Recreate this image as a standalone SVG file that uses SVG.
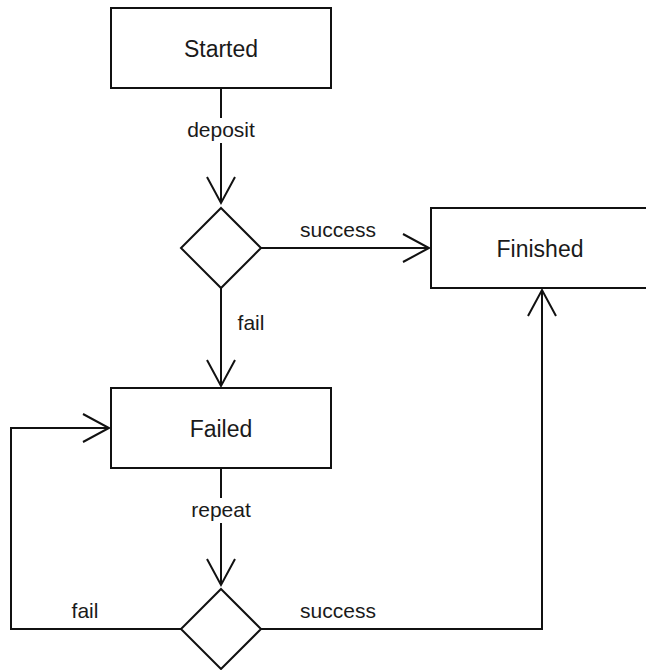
<svg xmlns="http://www.w3.org/2000/svg" width="646" height="670" viewBox="0 0 646 670">
<style>
.node{fill:#fff;stroke:#111;stroke-width:2}
.edge{fill:none;stroke:#111;stroke-width:2}
.nl{font-family:"Liberation Sans",Arial,sans-serif;font-size:23px;fill:#1a1a1a;text-anchor:middle}
.el{font-family:"Liberation Sans",Arial,sans-serif;font-size:21px;fill:#1a1a1a;text-anchor:middle}
</style>
<defs>
<marker id="open" markerUnits="userSpaceOnUse" markerWidth="40" markerHeight="40" viewBox="-30 -20 40 40" refX="0" refY="0" orient="auto" overflow="visible">
<path d="M-26,-14 L0,0 L-26,14" fill="none" stroke="#111" stroke-width="2"/>
</marker>
</defs>
<rect width="646" height="670" fill="#fff"/>
<g id="connectors">
<path class="edge" d="M221,88 L221,203" marker-end="url(#open)"/>
<path class="edge" d="M261,248 L429,248" marker-end="url(#open)"/>
<path class="edge" d="M221,288 L221,386" marker-end="url(#open)"/>
<path class="edge" d="M221,468 L221,585" marker-end="url(#open)"/>
<path class="edge" d="M181,629 L11,629 L11,428 L109,428" marker-end="url(#open)"/>
<path class="edge" d="M261,629 L542,629 L542,290" marker-end="url(#open)"/>
<rect x="186" y="118" width="70" height="25" fill="#fff"/>
<rect x="189" y="498" width="64" height="25" fill="#fff"/>
<text class="el" x="221" y="137">deposit</text>
<text class="el" x="338" y="237">success</text>
<text class="el" x="251" y="330">fail</text>
<text class="el" x="221" y="517">repeat</text>
<text class="el" x="85" y="618">fail</text>
<text class="el" x="338" y="618">success</text>
</g>
<g id="started">
<rect class="node" x="111" y="8" width="220" height="80"/>
<text class="nl" x="221" y="57">Started</text>
</g>
<g id="decision1">
<path class="node" d="M221,208 L261,248 L221,288 L181,248 Z"/>
</g>
<g id="finished">
<rect class="node" x="431" y="208" width="220" height="80"/>
<text class="nl" x="540" y="257">Finished</text>
</g>
<g id="failed">
<rect class="node" x="111" y="388" width="220" height="80"/>
<text class="nl" x="221" y="437">Failed</text>
</g>
<g id="decision2">
<path class="node" d="M221,589 L261,629 L221,669 L181,629 Z"/>
</g>
</svg>
